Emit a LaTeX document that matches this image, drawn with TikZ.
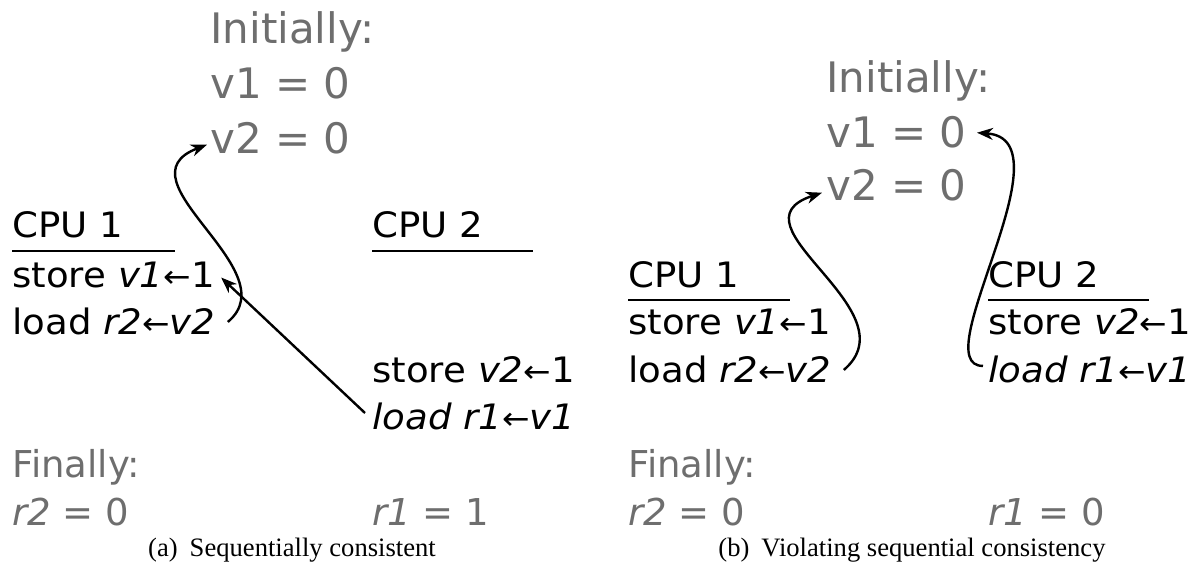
\documentclass[tikz,border=0pt]{standalone}
\usepackage{fontspec}
\setmainfont{DejaVu Sans}
\newfontfamily\codefont{DejaVu Sans}[FakeStretch=1.06]
\newfontfamily\capfont{Liberation Serif}
\usetikzlibrary{arrows.meta}
\definecolor{valgray}{RGB}{110,110,110}
% small assignment arrow used inside the instructions
\newcommand{\getsarrow}{{\fontsize{15.5pt}{15.5pt}\selectfont ←}}

\tikzset{
  code/.style={anchor=base west, inner sep=0pt, font=\codefont\fontsize{17.5pt}{21pt}\selectfont},
  initval/.style={anchor=base west, inner sep=0pt, text=valgray, font=\fontsize{21pt}{24pt}\selectfont},
  finalval/.style={anchor=base west, inner sep=0pt, text=valgray, font=\fontsize{18.5pt}{22pt}\selectfont},
  subcap/.style={anchor=base, inner sep=0pt, font=\capfont\fontsize{13.3pt}{16pt}\selectfont},
  cpurule/.style={line width=0.7pt},
  order/.style={line width=1.2pt, -{Stealth[length=8pt,width=6pt,inset=2.5pt]}},
}

\begin{document}
\begin{tikzpicture}[x=0.5pt, y=-0.5pt]
\useasboundingbox (0,0) rectangle (1195,571);

% ---------- (a) sequentially consistent ----------
\node[initval] (initA) at (210,44)  {Initially:};
\node[initval] (v1A)   at (210,99)  {v1 = 0};
\node[initval] (v2A)   at (210,154) {v2 = 0};

\node[code] (cpuA1)   at (12,238) {CPU 1};
\node[code] (storeA)  at (12,288) {store \textit{v1}\getsarrow 1};
\node[code] (loadA)   at (12,335) {load \textit{r2}\getsarrow\textit{v2}};
\draw[cpurule] ([yshift=-6.5pt]cpuA1.base west) -- ++(163,0);

\node[code] (cpuA2)   at (372,238) {CPU 2};
\node[code] (storeB)  at (372,383) {store \textit{v2}\getsarrow 1};
\node[code] (loadB)   at (372,430) {\textit{load r1}\getsarrow\textit{v1}};
\draw[cpurule] ([yshift=-6.5pt]cpuA2.base west) -- ++(161,0);

\node[finalval] (finA)  at (12,478)  {Finally:};
\node[finalval] (r2A)   at (12,526)  {\textit{r2} = 0};
\node[finalval] (r1A)   at (372,526) {\textit{r1} = 1};

\node[subcap] (capA) at (292,557) {(a)\hspace{0.45em}Sequentially consistent};

\draw[order] ([shift={(12,0)}]loadA.east)
  .. controls +(62,-52) and +(-92,35) .. ([shift={(-3,6)}]v2A.west);
\draw[order] ([shift={(-7,-17)}]loadB.base west) -- ([shift={(6,2)}]storeA.east);

% ---------- (b) violating sequential consistency ----------
\node[initval] (initB) at (826,93)  {Initially:};
\node[initval] (v1B)   at (826,148) {v1 = 0};
\node[initval] (v2B)   at (826,201) {v2 = 0};

\node[code] (cpuB1)   at (628,288) {CPU 1};
\node[code] (storeC)  at (628,335) {store \textit{v1}\getsarrow 1};
\node[code] (loadC)   at (628,383) {load \textit{r2}\getsarrow\textit{v2}};
\draw[cpurule] ([yshift=-6pt]cpuB1.base west) -- ++(162,0);

\node[code] (cpuB2)   at (988,288) {CPU 2};
\node[code] (storeD)  at (988,335) {store \textit{v2}\getsarrow 1};
\node[code] (loadD)   at (988,383) {\textit{load r1}\getsarrow\textit{v1}};
\draw[cpurule] ([yshift=-6pt]cpuB2.base west) -- ++(161,0);

\node[finalval] (finB)  at (628,478)  {Finally:};
\node[finalval] (r2B)   at (628,526)  {\textit{r2} = 0};
\node[finalval] (r1B)   at (988,526)  {\textit{r1} = 0};

\node[subcap] (capB) at (912,557) {(b)\hspace{0.45em}Violating sequential consistency};

\draw[order] ([shift={(12,0)}]loadC.east)
  .. controls +(70,-60) and +(-97,32) .. ([shift={(-4,7)}]v2B.west);
\draw[order] ([shift={(-5,-4)}]loadD.west)
  .. controls +(-60,0) and +(95,7) .. ([shift={(10,0)}]v1B.east);
\end{tikzpicture}
\end{document}
